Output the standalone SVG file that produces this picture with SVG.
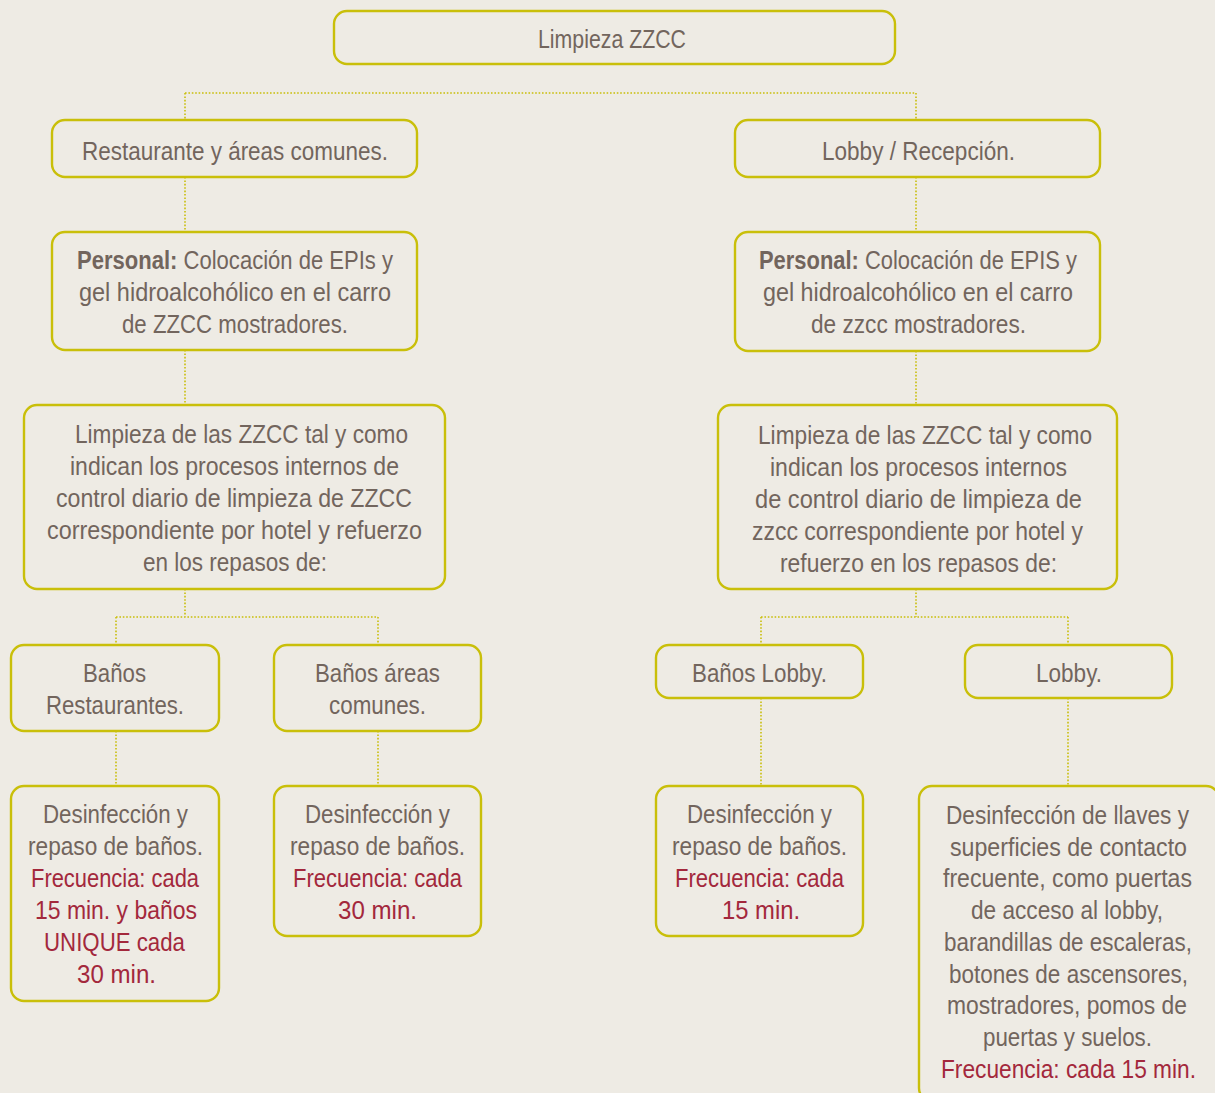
<svg xmlns="http://www.w3.org/2000/svg" width="1215" height="1093" viewBox="0 0 1215 1093">
<style>
.box{fill:#eeebe4;stroke:#c9bf0a;stroke-width:2.4}
.t{font-family:"Liberation Sans",Arial,sans-serif;font-size:26px;fill:#72655d}
.r{fill:#a3283c}
.b{font-weight:bold}
.c{fill:none;stroke:#c9bf0a;stroke-width:1.6;stroke-dasharray:1.6 1.8}
</style>
<rect width="1215" height="1093" fill="#eeebe4"/>
<g id="connectors">
<path class="c" d="M185 93H916M185 93V120M916 93V120"/>
<path class="c" d="M185 177V232M916 177V232"/>
<path class="c" d="M185 350V405M916 351V405"/>
<path class="c" d="M185 589V617M116 617H378M116 617V645M378 617V645"/>
<path class="c" d="M916 589V617M761 617H1068M761 617V645M1068 617V645"/>
<path class="c" d="M116 731V786M378 731V786M761 698V786M1068 698V786"/>
</g>
<g id="n-root"><rect class="box" x="334" y="11" width="561" height="53" rx="13"/>
<text class="t" x="538" y="48" textLength="148" lengthAdjust="spacingAndGlyphs">Limpieza ZZCC</text></g>
<g id="n-restaurante"><rect class="box" x="52" y="120" width="365" height="57" rx="13"/>
<text class="t" x="82" y="160" textLength="306" lengthAdjust="spacingAndGlyphs">Restaurante y áreas comunes.</text></g>
<g id="n-lobby"><rect class="box" x="735" y="120" width="365" height="57" rx="13"/>
<text class="t" x="822" y="160" textLength="193" lengthAdjust="spacingAndGlyphs">Lobby / Recepción.</text></g>
<g id="n-personal-l"><rect class="box" x="52" y="232" width="365" height="118" rx="13"/>
<text class="t" x="77" y="269" textLength="316" lengthAdjust="spacingAndGlyphs"><tspan class="b">Personal:</tspan> Colocación de EPIs y</text>
<text class="t" x="79" y="301" textLength="312" lengthAdjust="spacingAndGlyphs">gel hidroalcohólico en el carro</text>
<text class="t" x="122" y="333" textLength="226" lengthAdjust="spacingAndGlyphs">de ZZCC mostradores.</text></g>
<g id="n-personal-r"><rect class="box" x="735" y="232" width="365" height="119" rx="13"/>
<text class="t" x="759" y="269" textLength="318" lengthAdjust="spacingAndGlyphs"><tspan class="b">Personal:</tspan> Colocación de EPIS y</text>
<text class="t" x="763" y="301" textLength="310" lengthAdjust="spacingAndGlyphs">gel hidroalcohólico en el carro</text>
<text class="t" x="811" y="333" textLength="215" lengthAdjust="spacingAndGlyphs">de zzcc mostradores.</text></g>
<g id="n-limpieza-l"><rect class="box" x="24" y="405" width="421" height="184" rx="13"/>
<text class="t" x="75" y="443" textLength="333" lengthAdjust="spacingAndGlyphs">Limpieza de las ZZCC tal y como</text>
<text class="t" x="70" y="475" textLength="329" lengthAdjust="spacingAndGlyphs">indican los procesos internos de</text>
<text class="t" x="56" y="507" textLength="356" lengthAdjust="spacingAndGlyphs">control diario de limpieza de ZZCC</text>
<text class="t" x="47" y="539" textLength="375" lengthAdjust="spacingAndGlyphs">correspondiente por hotel y refuerzo</text>
<text class="t" x="143" y="571" textLength="184" lengthAdjust="spacingAndGlyphs">en los repasos de:</text></g>
<g id="n-limpieza-r"><rect class="box" x="718" y="405" width="399" height="184" rx="13"/>
<text class="t" x="758" y="444" textLength="334" lengthAdjust="spacingAndGlyphs">Limpieza de las ZZCC tal y como</text>
<text class="t" x="770" y="476" textLength="297" lengthAdjust="spacingAndGlyphs">indican los procesos internos</text>
<text class="t" x="755" y="508" textLength="327" lengthAdjust="spacingAndGlyphs">de control diario de limpieza de</text>
<text class="t" x="752" y="540" textLength="331" lengthAdjust="spacingAndGlyphs">zzcc correspondiente por hotel y</text>
<text class="t" x="780" y="572" textLength="277" lengthAdjust="spacingAndGlyphs">refuerzo en los repasos de:</text></g>
<g id="n-banos-rest"><rect class="box" x="11" y="645" width="208" height="86" rx="13"/>
<text class="t" x="83" y="682" textLength="63" lengthAdjust="spacingAndGlyphs">Baños</text>
<text class="t" x="46" y="714" textLength="138" lengthAdjust="spacingAndGlyphs">Restaurantes.</text></g>
<g id="n-banos-areas"><rect class="box" x="274" y="645" width="207" height="86" rx="13"/>
<text class="t" x="315" y="682" textLength="125" lengthAdjust="spacingAndGlyphs">Baños áreas</text>
<text class="t" x="329" y="714" textLength="97" lengthAdjust="spacingAndGlyphs">comunes.</text></g>
<g id="n-banos-lobby"><rect class="box" x="656" y="645" width="207" height="53" rx="13"/>
<text class="t" x="692" y="682" textLength="135" lengthAdjust="spacingAndGlyphs">Baños Lobby.</text></g>
<g id="n-lobby2"><rect class="box" x="965" y="645" width="207" height="53" rx="13"/>
<text class="t" x="1036" y="682" textLength="66" lengthAdjust="spacingAndGlyphs">Lobby.</text></g>
<g id="n-d1"><rect class="box" x="11" y="786" width="208" height="215" rx="13"/>
<text class="t" x="43" y="823" textLength="145" lengthAdjust="spacingAndGlyphs">Desinfección y</text>
<text class="t" x="28" y="855" textLength="175" lengthAdjust="spacingAndGlyphs">repaso de baños.</text>
<text class="t r" x="31" y="887" textLength="168" lengthAdjust="spacingAndGlyphs">Frecuencia: cada</text>
<text class="t r" x="35" y="919" textLength="162" lengthAdjust="spacingAndGlyphs">15 min. y baños</text>
<text class="t r" x="44" y="951" textLength="141" lengthAdjust="spacingAndGlyphs">UNIQUE cada</text>
<text class="t r" x="77" y="983" textLength="79" lengthAdjust="spacingAndGlyphs">30 min.</text></g>
<g id="n-d2"><rect class="box" x="274" y="786" width="207" height="150" rx="13"/>
<text class="t" x="305" y="823" textLength="145" lengthAdjust="spacingAndGlyphs">Desinfección y</text>
<text class="t" x="290" y="855" textLength="175" lengthAdjust="spacingAndGlyphs">repaso de baños.</text>
<text class="t r" x="293" y="887" textLength="169" lengthAdjust="spacingAndGlyphs">Frecuencia: cada</text>
<text class="t r" x="338" y="919" textLength="79" lengthAdjust="spacingAndGlyphs">30 min.</text></g>
<g id="n-d3"><rect class="box" x="656" y="786" width="207" height="150" rx="13"/>
<text class="t" x="687" y="823" textLength="145" lengthAdjust="spacingAndGlyphs">Desinfección y</text>
<text class="t" x="672" y="855" textLength="175" lengthAdjust="spacingAndGlyphs">repaso de baños.</text>
<text class="t r" x="675" y="887" textLength="169" lengthAdjust="spacingAndGlyphs">Frecuencia: cada</text>
<text class="t r" x="722" y="919" textLength="78" lengthAdjust="spacingAndGlyphs">15 min.</text></g>
<g id="n-d4"><rect class="box" x="919" y="786" width="300" height="315" rx="13"/>
<text class="t" x="946" y="824" textLength="243" lengthAdjust="spacingAndGlyphs">Desinfección de llaves y</text>
<text class="t" x="950" y="856" textLength="237" lengthAdjust="spacingAndGlyphs">superficies de contacto</text>
<text class="t" x="943" y="887" textLength="249" lengthAdjust="spacingAndGlyphs">frecuente, como puertas</text>
<text class="t" x="971" y="919" textLength="192" lengthAdjust="spacingAndGlyphs">de acceso al lobby,</text>
<text class="t" x="944" y="951" textLength="248" lengthAdjust="spacingAndGlyphs">barandillas de escaleras,</text>
<text class="t" x="949" y="983" textLength="239" lengthAdjust="spacingAndGlyphs">botones de ascensores,</text>
<text class="t" x="947" y="1014" textLength="240" lengthAdjust="spacingAndGlyphs">mostradores, pomos de</text>
<text class="t" x="983" y="1046" textLength="169" lengthAdjust="spacingAndGlyphs">puertas y suelos.</text>
<text class="t r" x="941" y="1078" textLength="255" lengthAdjust="spacingAndGlyphs">Frecuencia: cada 15 min.</text></g>
</svg>
